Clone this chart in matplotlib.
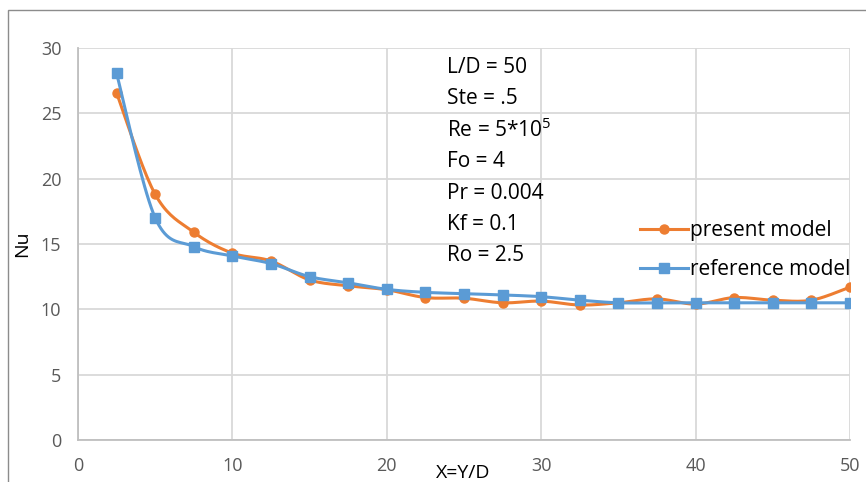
import numpy as np
import matplotlib
matplotlib.use("Agg")
import matplotlib.pyplot as plt
from matplotlib.patches import Rectangle

plt.rcParams["font.family"] = ["Open Sans", "DejaVu Sans"]
plt.rcParams["mathtext.default"] = "regular"

x_pos = [2.5, 5, 7.5, 10, 12.5, 15, 17.5, 20, 22.5, 25,
         27.5, 30, 32.5, 35, 37.5, 40, 42.5, 45, 47.5, 50]
present_nu = [26.55, 18.8, 15.9, 14.3, 13.7, 12.25, 11.8, 11.5, 10.9, 10.85,
              10.5, 10.63, 10.33, 10.5, 10.8, 10.4, 10.9, 10.7, 10.7, 11.7]
reference_nu = [28.05, 17.0, 14.8, 14.08, 13.5, 12.5, 12.03, 11.53, 11.3, 11.2,
                11.1, 10.97, 10.7, 10.5, 10.5, 10.5, 10.5, 10.5, 10.5, 10.5]
params = ["L/D = 50", "Ste = .5", "Re = 5*10$^5$", "Fo = 4",
          "Pr = 0.004", "Kf = 0.1", "Ro = 2.5"]

ORANGE = "#ED7D31"
BLUE = "#5B9BD5"
GRID = "#d9d9d9"
TICK = "#595959"


def smooth(xs, ys, n=20):
    # Catmull-Rom, roughly what Excel's "smoothed line" does
    p = np.column_stack([xs, ys]).astype(float)
    p = np.vstack([p[0], p, p[-1]])
    out = []
    t = np.linspace(0, 1, n, endpoint=False)[:, None]
    for i in range(1, len(p) - 2):
        p0, p1, p2, p3 = p[i - 1], p[i], p[i + 1], p[i + 2]
        seg = 0.5 * ((2 * p1) + (-p0 + p2) * t + (2 * p0 - 5 * p1 + 4 * p2 - p3) * t ** 2
                     + (-p0 + 3 * p1 - 3 * p2 + p3) * t ** 3)
        out.append(seg)
    out.append(p[-2][None, :])
    out = np.vstack(out)
    return out[:, 0], out[:, 1]


fig = plt.figure(figsize=(8.66, 4.82), dpi=100)
fig.patches.append(Rectangle((8 / 866, -0.1), 1.2, 1 - 10 / 482 + 0.1,
                             transform=fig.transFigure, fill=False,
                             edgecolor="#8c8c8c", linewidth=1.0))
ax = fig.add_axes([78 / 866, 1 - 440 / 482, 772 / 866, 392 / 482])

for ys, color, marker, ms, label in [
        (present_nu, ORANGE, "o", 6.5, "present model"),
        (reference_nu, BLUE, "s", 7, "reference model")]:
    sx, sy = smooth(x_pos, ys)
    ax.plot(sx, sy, color=color, linewidth=2.2, solid_capstyle="round")
    ax.plot(x_pos, ys, linestyle="none", marker=marker, markersize=ms,
            color=color)
    ax.plot([], [], color=color, linewidth=2.2, marker=marker,
            markersize=ms, label=label)

ax.set_xlim(0, 50)
ax.set_ylim(0, 30)
ax.set_xticks(range(0, 51, 10))
ax.set_yticks(range(0, 31, 5))
ax.grid(True, color=GRID, linewidth=1.3)
ax.set_axisbelow(True)
for s in ["top", "right"]:
    ax.spines[s].set_visible(False)
for s in ["left", "bottom"]:
    ax.spines[s].set_color("#bfbfbf")
    ax.spines[s].set_linewidth(1.3)
ax.tick_params(length=0, labelsize=13, labelcolor=TICK)
ax.tick_params(axis="x", pad=12)
ax.tick_params(axis="y", pad=12)

for i, txt in enumerate(params):
    ax.text(23.9, 28.5 - i * 2.4, txt, fontsize=15, va="center", ha="left",
            color="black")

leg = ax.legend(loc="center left", bbox_to_anchor=(640 / 866, 1 - 250 / 482),
                bbox_transform=fig.transFigure, frameon=False, fontsize=15,
                handlelength=2.3, handletextpad=0.1, labelspacing=0.85,
                numpoints=1, borderpad=0, borderaxespad=0)

fig.text(463 / 866, 1 - 473 / 482, "X=Y/D", ha="center", va="center",
         fontsize=14, color="black")
fig.text(22 / 866, 1 - 244 / 482, "Nu", ha="center", va="center",
         fontsize=14, rotation=90, color="black")

fig.savefig("out.png", dpi=100, facecolor="white")
